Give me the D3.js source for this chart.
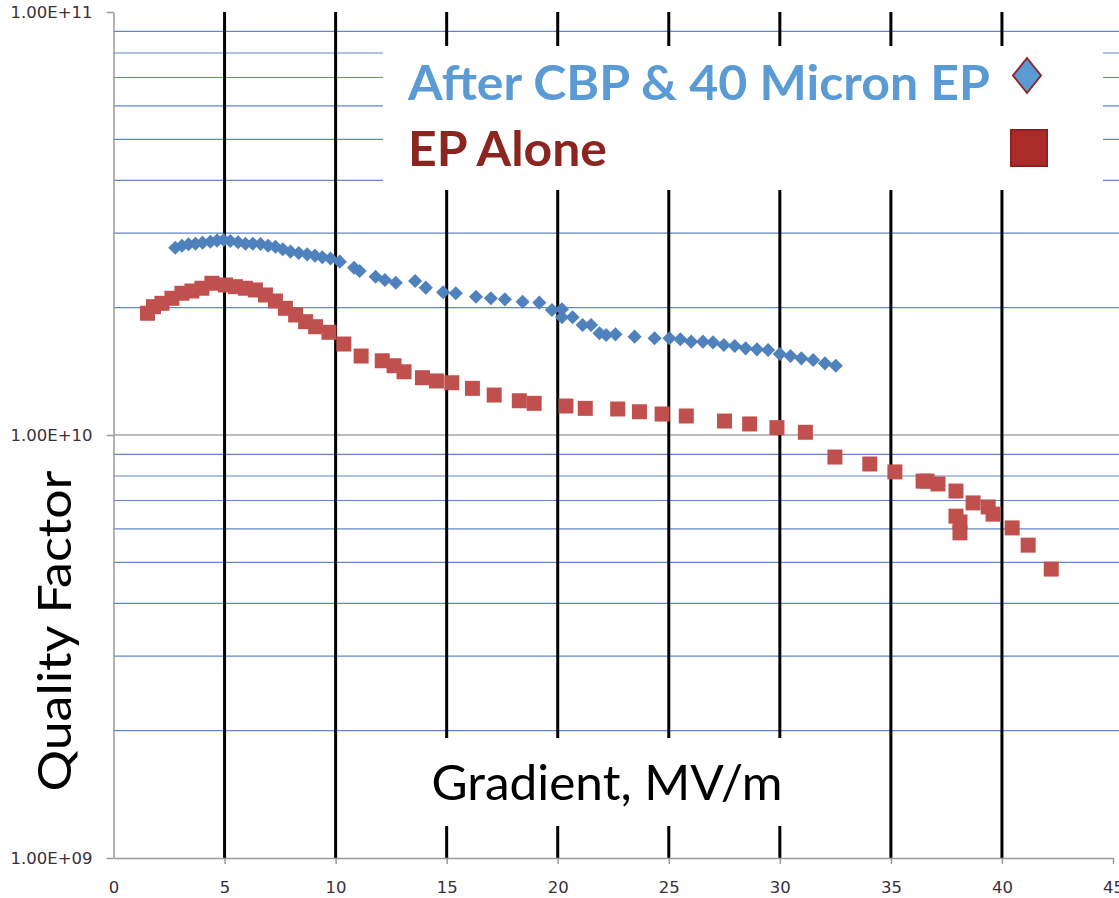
<!DOCTYPE html>
<html>
<head>
<meta charset="utf-8">
<script src="https://cdn.jsdelivr.net/npm/d3@7"></script>
<style>
  body { margin: 0; background: #fff; }
  svg { display: block; }
</style>
</head>
<body>
<div id="container"></div>
<script>
'use strict'
// gradient (MV/m) and quality factor (in units of 1e10)
const cbpGradient = [2.78,3.08,3.38,3.69,4.01,4.36,4.66,4.96,5.26,5.61,5.94,6.27,6.62,6.96,7.29,7.62,7.97,8.34,8.72,9.07,9.40,9.77,10.19,10.83,11.08,11.80,12.22,12.71,13.58,14.06,14.84,15.41,16.32,16.99,17.62,18.42,19.17,19.74,20.19,20.19,20.67,21.12,21.50,21.88,22.18,22.60,23.46,24.36,25.03,25.52,26.01,26.54,26.99,27.48,27.97,28.46,28.97,29.47,30.00,30.48,30.97,31.50,32.03,32.52];
const cbpQ = [2.772,2.802,2.824,2.833,2.849,2.864,2.880,2.891,2.875,2.855,2.833,2.833,2.828,2.802,2.787,2.748,2.713,2.693,2.674,2.654,2.631,2.614,2.569,2.486,2.442,2.367,2.325,2.291,2.312,2.230,2.175,2.163,2.123,2.105,2.093,2.066,2.055,1.975,1.983,1.898,1.898,1.820,1.820,1.740,1.723,1.730,1.708,1.693,1.693,1.684,1.662,1.662,1.656,1.632,1.623,1.603,1.594,1.588,1.554,1.537,1.518,1.504,1.477,1.458];

const epGradient = [1.53,1.80,2.18,2.63,3.08,3.53,3.98,4.43,5.04,5.49,5.94,6.39,6.84,7.29,7.74,8.20,8.65,9.10,9.70,10.37,11.15,12.10,12.63,13.08,13.91,14.54,15.23,16.16,17.14,18.27,18.94,20.37,21.24,22.70,23.68,24.70,25.79,27.51,28.64,29.87,31.15,32.48,34.05,35.18,36.45,36.63,37.12,37.93,37.93,38.11,38.11,38.70,39.38,39.60,40.46,41.18,42.22];
const epQ = [1.940,2.011,2.048,2.105,2.163,2.190,2.223,2.284,2.263,2.242,2.223,2.202,2.143,2.074,1.993,1.922,1.853,1.803,1.749,1.641,1.537,1.498,1.458,1.411,1.366,1.342,1.329,1.289,1.243,1.205,1.188,1.171,1.156,1.152,1.135,1.121,1.109,1.079,1.062,1.041,1.015,0.887,0.854,0.818,0.778,0.778,0.766,0.737,0.643,0.623,0.587,0.691,0.676,0.650,0.603,0.549,0.482];

const xTicks = [0,5,10,15,20,25,30,35,40,45];
const yTicks = [1e9,1e10,1e11];
const yTickLabels = ["1.00E+09","1.00E+10","1.00E+11"];
const seriesNames = ["After CBP & 40 Micron EP","EP Alone"];
const xTitle = "Gradient, MV/m";
const yTitle = "Quality Factor";

const width = 1119;
const height = 898;

const x = d3.scaleLinear().domain([0,45]).range([113.5,1113]);
const y = d3.scaleLog().domain([1e9,1e11]).range([858,12]);

const svg = d3.select("#container").append("svg")
    .attr("width", width)
    .attr("height", height);

// minor (blue) horizontal gridlines, 2..9 of each decade
const minor = [];
[1e9,1e10].forEach(dec => { for (let k = 2; k <= 9; k++) minor.push(k*dec); });

svg.append("g").selectAll("line")
    .data(minor)
    .enter().append("line")
    .attr("x1", x(0)).attr("x2", width)
    .attr("y1", d => y(d)).attr("y2", d => y(d))
    .attr("stroke", "#5f88c8")
    .attr("stroke-width", 1.2);

// major gridline at 1e10
svg.append("line")
    .attr("x1", x(0)).attr("x2", width)
    .attr("y1", y(1e10)).attr("y2", y(1e10))
    .attr("stroke", "#a6a6a6")
    .attr("stroke-width", 1.5);

// black vertical gridlines
svg.append("g").selectAll("line")
    .data(xTicks.filter(d => d > 0 && d < 45))
    .enter().append("line")
    .attr("x1", d => x(d)).attr("x2", d => x(d))
    .attr("y1", y(1e11)).attr("y2", y(1e9))
    .attr("stroke", "#000")
    .attr("stroke-width", 3);

// white boxes behind legend and x title
svg.append("rect").attr("x", 383).attr("y", 46).attr("width", 720).attr("height", 144).attr("fill", "#fff");
svg.append("rect").attr("x", 420).attr("y", 738).attr("width", 380).attr("height", 88).attr("fill", "#fff");

// axes
const xAxis = svg.append("g")
    .attr("transform", "translate(0," + y(1e9) + ")")
    .call(d3.axisBottom(x).tickValues(xTicks).tickSize(6).tickSizeOuter(0).tickPadding(17));
const yAxis = svg.append("g")
    .attr("transform", "translate(" + x(0) + ",0)")
    .call(d3.axisLeft(y).tickValues(yTicks).tickFormat((d,i) => yTickLabels[i]).tickSize(7).tickSizeOuter(0).tickPadding(14));

[xAxis, yAxis].forEach(g => {
  g.select(".domain").attr("stroke", "#9a9a9a").attr("stroke-width", 1.5);
  g.selectAll(".tick line").attr("stroke", "#9a9a9a").attr("stroke-width", 1.5);
  g.selectAll("text")
    .attr("fill", "#3a2f3a")
    .style("font-family", "'DejaVu Sans', sans-serif")
    .style("font-size", "16.5px");
});
yAxis.selectAll("text").attr("dy", "0.36em");
xAxis.select(".tick:first-of-type line").remove();

// data points
const cbpPoints = cbpGradient.map((g,i) => ({g: g, q: cbpQ[i]*1e10}));
const epPoints = epGradient.map((g,i) => ({g: g, q: epQ[i]*1e10}));

svg.append("g").selectAll("path")
    .data(epPoints)
    .enter().append("path")
    .attr("d", d3.symbol(d3.symbolSquare, 225))
    .attr("transform", d => "translate(" + x(d.g) + "," + y(d.q) + ")")
    .attr("fill", "#c0504d");

svg.append("g").selectAll("path")
    .data(cbpPoints)
    .enter().append("path")
    .attr("d", d3.symbol(d3.symbolSquare, 100))
    .attr("transform", d => "translate(" + x(d.g) + "," + y(d.q) + ") rotate(45)")
    .attr("fill", "#4f81bd");

// legend
svg.append("text")
    .attr("x", 408).attr("y", 100)
    .attr("fill", "#5b9bd5")
    .attr("textLength", 582)
    .attr("lengthAdjust", "spacingAndGlyphs")
    .style("font-family", "Lato, sans-serif")
    .style("font-weight", "bold")
    .style("font-size", "48px")
    .text(seriesNames[0]);
svg.append("text")
    .attr("x", 408).attr("y", 166)
    .attr("fill", "#8b2520")
    .attr("textLength", 199)
    .attr("lengthAdjust", "spacingAndGlyphs")
    .style("font-family", "Lato, sans-serif")
    .style("font-weight", "bold")
    .style("font-size", "48px")
    .text(seriesNames[1]);

svg.append("path")
    .attr("d", "M1027,58 L1041,75.5 L1027,93 L1013,75.5 Z")
    .attr("fill", "#5b9bd5")
    .attr("stroke", "#8b2a2a")
    .attr("stroke-width", 2);
svg.append("rect")
    .attr("x", 1011).attr("y", 130).attr("width", 36).attr("height", 36)
    .attr("fill", "#ab2b2b")
    .attr("stroke", "#8b2020")
    .attr("stroke-width", 2);

// axis titles
svg.append("text")
    .attr("x", 607).attr("y", 800)
    .attr("text-anchor", "middle")
    .attr("fill", "#000")
    .attr("textLength", 351)
    .attr("lengthAdjust", "spacingAndGlyphs")
    .style("font-family", "Lato, sans-serif")
    .style("font-size", "48px")
    .text(xTitle);

svg.append("text")
    .attr("transform", "translate(71,631) rotate(-90)")
    .attr("text-anchor", "middle")
    .attr("fill", "#000")
    .attr("textLength", 321)
    .attr("lengthAdjust", "spacingAndGlyphs")
    .style("font-family", "Lato, sans-serif")
    .style("font-size", "47px")
    .text(yTitle);
</script>
</body>
</html>
